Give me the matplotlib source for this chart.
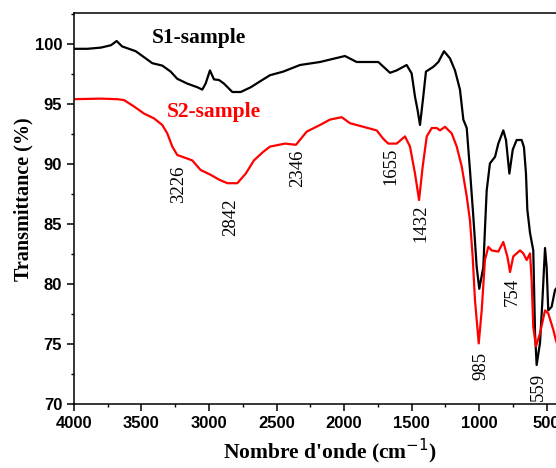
import numpy as np
import matplotlib
matplotlib.use("Agg")
import matplotlib.pyplot as plt
from matplotlib.ticker import MultipleLocator

# S1-sample spectrum (wavenumber cm-1, transmittance %)
s1_wn = [4000, 3900, 3800, 3726, 3684, 3644, 3543, 3481, 3420, 3346, 3284, 3235,
         3161, 3087, 3050, 3025, 2993, 2963, 2926, 2889, 2827, 2765, 2690, 2620,
         2548, 2450, 2326, 2178, 1993, 1906, 1746, 1659, 1610, 1536, 1499, 1474,
         1455, 1437, 1413, 1393, 1338, 1301, 1259, 1215, 1178, 1141, 1116, 1091,
         1067, 1042, 1017, 998, 968, 955, 943, 919, 881, 857, 820, 800, 775, 750,
         721, 684, 667, 652, 642, 622, 598, 585, 573, 548, 530, 511, 499, 487,
         462, 437, 415]
s1_t = [99.6, 99.6, 99.7, 99.9, 100.25, 99.8, 99.4, 98.9, 98.4, 98.2, 97.7, 97.1,
        96.7, 96.4, 96.2, 96.7, 97.8, 97.05, 97.0, 96.7, 96.0, 96.0, 96.4, 96.9,
        97.4, 97.7, 98.25, 98.5, 99.0, 98.5, 98.5, 97.6, 97.8, 98.25, 97.55, 95.6,
        94.5, 93.25, 95.6, 97.7, 98.1, 98.5, 99.4, 98.8, 97.8, 96.2, 93.7, 93.0,
        89.5, 85.6, 81.4, 79.6, 81.4, 84.8, 87.8, 90.05, 90.6, 91.7, 92.8, 92.0, 89.2, 91.2,
        92.0, 92.0, 91.4, 89.2, 86.2, 84.25, 82.8, 75.9, 73.25, 75.1, 78.7, 83.0, 81.4, 77.8,
        78.1, 79.5, 79.8]

# S2-sample spectrum
s2_wn = [4000, 3800, 3679, 3630, 3556, 3481, 3407, 3346, 3309, 3272, 3235, 3173,
         3124, 3062, 2988, 2926, 2864, 2790, 2728, 2667, 2600, 2548, 2437, 2356,
         2276, 2178, 2104, 2017, 1956, 1857, 1758, 1709, 1672, 1610, 1548, 1511,
         1474, 1444, 1417, 1387, 1350, 1313, 1289, 1252, 1202, 1165, 1128, 1091,
         1067, 1047, 1030, 1002, 980, 956, 931, 906, 857, 820, 790, 770, 746, 696,
         672, 647, 622, 610, 598, 578, 548, 511, 487, 450, 430, 415]
s2_t = [95.4, 95.45, 95.4, 95.33, 94.8, 94.2, 93.8, 93.25, 92.55, 91.45, 90.75, 90.5,
        90.3, 89.5, 89.1, 88.7, 88.4, 88.4, 89.2, 90.3, 91.0, 91.45, 91.7, 91.6,
        92.7, 93.25, 93.7, 93.9, 93.4, 93.1, 92.8, 92.1, 91.7, 91.7, 92.3, 91.45,
        89.2, 87.0, 89.8, 92.3, 93.0, 93.0, 92.8, 93.1, 92.55, 91.45, 89.8, 87.3,
        85.3, 82.3, 78.7, 75.05, 77.8, 82.0, 83.1, 82.8, 82.7, 83.5, 82.3, 81.0, 82.3, 82.8,
        82.55, 82.0, 82.55, 80.3, 76.4, 74.8, 75.9, 77.8, 77.55, 76.2, 75.3, 74.8]

# band labels
peaks = [3226, 2842, 2346, 1655, 1432, 985, 754, 559]
peak_labels = ["3226", "2842", "2346", "1655", "1432", "985", "754", "559"]
label_gap = [6.5, 11, 3.6, 2.6, 3.6, 6.2, 4.3, 5.8]  # points below the curve

serif = "Liberation Serif"
sans = "Liberation Sans"


def curve_min(wn_arr, t_arr, center, half=20):
    xs = np.linspace(center - half, center + half, 41)
    return np.interp(xs, wn_arr[::-1], t_arr[::-1]).min()


fig = plt.figure(figsize=(5.56, 4.68), dpi=100)
ax = fig.add_axes([74 / 556, 64 / 468, 486 / 556, 391 / 468])

ax.plot(s1_wn, s1_t, color="black", lw=1.6)
ax.plot(s2_wn, s2_t, color="red", lw=1.6)

ax.set_xlim(4000, 400)
ax.set_ylim(70, 70 + 391 / 12)

for wn, lab, gap in zip(peaks, peak_labels, label_gap):
    yv = curve_min(s2_wn, s2_t, wn)
    if wn == 559:
        yv = min(yv, curve_min(s1_wn, s1_t, wn))
    ax.annotate(lab, xy=(wn, yv), xytext=(0, -gap), textcoords="offset points",
                rotation=90, ha="center", va="top", fontsize=13.5, family=serif)

fig.text(152 / 556, 1 - 38 / 468, "S1-sample", fontsize=15.5, fontweight="bold",
         family=serif, color="black", va="center")
fig.text(167 / 556, 1 - 112 / 468, "S2-sample", fontsize=15.5, fontweight="bold",
         family=serif, color="red", va="center")

ax.xaxis.set_major_locator(MultipleLocator(500))
ax.xaxis.set_minor_locator(MultipleLocator(250))
ax.yaxis.set_major_locator(MultipleLocator(5))
ax.yaxis.set_minor_locator(MultipleLocator(2.5))
ax.tick_params(which="major", direction="out", length=5, width=1.1, labelsize=12)
ax.tick_params(which="minor", direction="out", length=2.5, width=1.0)
for lab in ax.get_xticklabels() + ax.get_yticklabels():
    lab.set_family(sans)
    lab.set_fontweight("bold")
for s in ax.spines.values():
    s.set_linewidth(1.1)

fig.text(23 / 556, 1 - 199 / 468, "Transmittance (%)", rotation=90, ha="center",
         va="center", fontsize=14.5, fontweight="bold", family=serif)
fig.text(330 / 556, 1 - 451 / 468, "Nombre d'onde (cm$^{-1}$)", ha="center",
         va="center", fontsize=15.5, fontweight="bold", family=serif)

fig.savefig("out.png", dpi=100)
